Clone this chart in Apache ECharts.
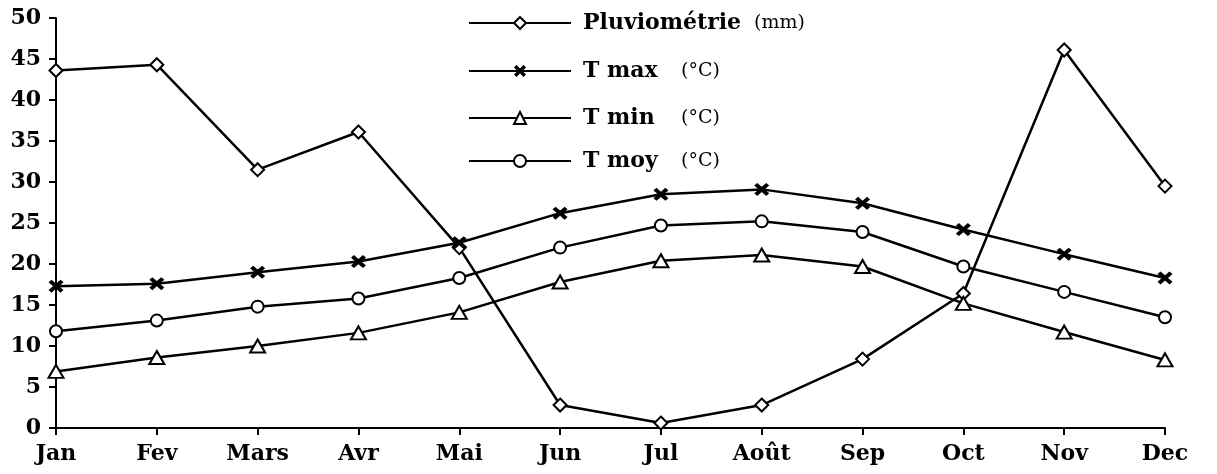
<!DOCTYPE html>
<html>
<head>
<meta charset="utf-8">
<script src="https://cdn.jsdelivr.net/npm/echarts@6/dist/echarts.min.js"></script>
<style>
  html, body { margin: 0; padding: 0; background: #fff; }
  #chart { width: 1217px; height: 474px; }
</style>
</head>
<body>
<div id="chart"></div>
<script>
    // mois et valeurs
    var mois = ['Jan', 'Fev', 'Mars', 'Avr', 'Mai', 'Jun', 'Jul', 'Août', 'Sep', 'Oct', 'Nov', 'Dec'];
    var pluvio = [43.6, 44.3, 31.5, 36.1, 22.0, 2.8, 0.6, 2.8, 8.4, 16.4, 46.1, 29.5];
    var tmax = [17.3, 17.6, 19.0, 20.3, 22.6, 26.2, 28.5, 29.1, 27.4, 24.2, 21.2, 18.3];
    var tmin = [6.9, 8.6, 10.0, 11.6, 14.1, 17.8, 20.4, 21.1, 19.7, 15.2, 11.7, 8.3];
    var tmoy = [11.8, 13.1, 14.8, 15.8, 18.3, 22.0, 24.7, 25.2, 23.9, 19.7, 16.6, 13.5];
    var unites = { 'Pluviométrie': '(mm)', 'T max': '(°C)', 'T min': '(°C)', 'T moy': '(°C)' };

    var serif = 'DejaVu Serif';
    var croix = 'path://M0,2L2,0L5,3L8,0L10,2L7,5L10,8L8,10L5,7L2,10L0,8L3,5Z';

    function serie(name, data, symbol, size, plein) {
        return {
            name: name,
            type: 'line',
            data: data,
            symbol: symbol,
            symbolSize: size,
            showAllSymbol: true,
            lineStyle: { color: '#000', width: 2.5 },
            itemStyle: plein
                ? { color: '#000', borderWidth: 0 }
                : { color: '#fff', borderColor: '#000', borderWidth: 2 },
            emphasis: { disabled: true },
            z: 3
        };
    }

    function legende(name, top, nameWidth) {
        return {
            data: [name],
            left: 468,
            top: top,
            padding: 0,
            orient: 'vertical',
            itemWidth: 102,
            itemHeight: 15,
            selectedMode: false,
            formatter: function (n) { return '{b|' + n + '}{u|' + unites[n] + '}'; },
            textStyle: {
                rich: {
                    b: { fontFamily: serif, fontWeight: 'bold', fontSize: 22, color: '#000', width: nameWidth, padding: [0, 0, 0, 7] },
                    u: { fontFamily: serif, fontSize: 19, color: '#000' }
                }
            }
        };
    }

    var chart = echarts.init(document.getElementById('chart'));
    chart.setOption({
        backgroundColor: '#fff',
        animation: false,
        legend: [
            legende('Pluviométrie', 12, 171),
            legende('T max', 60, 98),
            legende('T min', 107, 98),
            legende('T moy', 150, 98)
        ],
        grid: { left: 56, right: 52, top: 18, bottom: 46 },
        xAxis: {
            type: 'category',
            data: mois,
            boundaryGap: false,
            axisLine: { lineStyle: { color: '#000', width: 2 } },
            axisTick: { alignWithLabel: true, length: 7, lineStyle: { color: '#000', width: 2 } },
            axisLabel: { margin: 15, color: '#000', fontFamily: serif, fontWeight: 'bold', fontSize: 22, interval: 0 }
        },
        yAxis: {
            type: 'value',
            min: 0,
            max: 50,
            interval: 5,
            splitLine: { show: false },
            axisLine: { show: true, lineStyle: { color: '#000', width: 2 } },
            axisTick: { show: true, length: 7, lineStyle: { color: '#000', width: 2 } },
            axisLabel: { margin: 15, color: '#000', fontFamily: serif, fontWeight: 'bold', fontSize: 22 }
        },
        series: [
            serie('Pluviométrie', pluvio, 'diamond', [13, 13], false),
            serie('T max', tmax, croix, [15, 13], true),
            serie('T min', tmin, 'triangle', [15, 13], false),
            serie('T moy', tmoy, 'circle', 12, false)
        ]
    });
</script>
</body>
</html>
